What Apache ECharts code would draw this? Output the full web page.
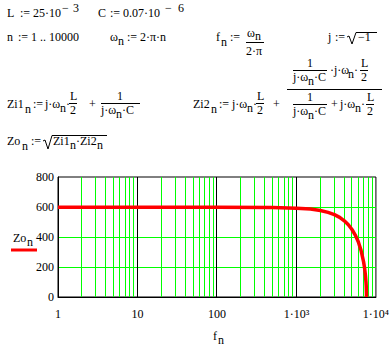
<!DOCTYPE html>
<html>
<head>
<meta charset="utf-8">
<script src="https://cdn.jsdelivr.net/npm/echarts@6/dist/echarts.min.js"></script>
<style>
html,body{margin:0;padding:0;background:#fff;}
#c{width:392px;height:348px;}
</style>
</head>
<body>
<div id="c"></div>
<script>
// ---- data ----
const freq = [1, 10, 100, 500, 1000, 1500, 2000, 2500, 3000, 3500, 4000, 4500, 5000, 5500, 6000, 6500, 7000, 7100, 7200, 7300, 7400, 7500, 7550, 7600, 7609];
const zo   = [598, 598, 598, 596, 592, 586, 577, 564, 549, 531, 508, 482, 450, 413, 368, 311, 234, 214, 193, 167, 139, 101, 76, 27, 0];
const minorGrid = [2,3,4,5,6,7,8,9, 20,30,40,50,60,70,80,90, 200,300,400,500,600,700,800,900, 2000,3000,4000,5000,6000,7000,8000,9000];
const decadeGrid = [10, 100, 1000];
const xTickValues = [1, 10, 100, 1000, 10000];
const xTickLabels = ['1', '10', '100', '1·10³', '1·10⁴'];
const yTickValues = [0, 200, 400, 600, 800];

const FONT = '"Liberation Serif","Times New Roman",serif';
const FS = 12;
const G = [];
function T(x, base, s, fs) {
  fs = fs || FS;
  G.push({type:'text', silent:true, style:{text:s, x:x, y:base - 0.305*fs, font: fs+'px '+FONT, fill:'#000', align:'left', verticalAlign:'middle'}});
}
function L(x1, y1, x2, y2) {
  G.push({type:'line', silent:true, shape:{x1:x1, y1:y1+0.5, x2:x2, y2:y2+0.5}, style:{stroke:'#000', lineWidth:1}});
}
function P(points) {
  G.push({type:'polyline', silent:true, shape:{points:points}, style:{stroke:'#000', lineWidth:1, fill:null}});
}
// row 1
T(7,17,'L'); T(20,17,':='); T(33,17,'25·10'); T(62,12,'−'); T(73,12,'3');
T(98,17,'C'); T(110,17,':='); T(123,17,'0.07·10'); T(165,12,'−'); T(178,12,'6');
// row 2
T(7,41,'n'); T(18,41,':='); T(31,41,'1 .. 10000');
T(110,41,'ω'); T(118,45,'n'); T(127,41,':='); T(140,41,'2·π·n');
T(216,41,'f'); T(221,46,'n'); T(230,41,':=');
L(246,42,264,42); T(247,37,'ω'); T(255,40,'n'); T(246,55,'2·π');
T(328,41,'j'); T(335,41,':='); P([[347,37],[349,36],[352,44],[356,32.5],[377,32.5]]); T(358,41,'−1');
// Zi1
const B = 103, M = 108;
T(7,M,'Zi1'); T(25,M+5,'n'); T(33,M,':=');
T(45,M,'j·ω'); T(60,M+4,'n'); T(66,M,'·');
L(69,B,77,B); T(70,B-3,'L'); T(70,B+11,'2');
T(89,M,'+');
L(101,B,140,B); T(117,B-3,'1'); T(101,B+11,'j·ω'); T(116,B+15,'n'); T(122,B+11,'·C');
// Zi2
T(193,M,'Zi2'); T(211,M+5,'n'); T(219,M,':=');
T(232,M,'j·ω'); T(247,M+4,'n'); T(253,M,'·');
L(256,B,264,B); T(257,B-3,'L'); T(257,B+11,'2');
T(273,M,'+');
const BB = 89;
L(287,BB,382,BB);
// numerator
L(293,70,327,70); T(307,67,'1'); T(293,81,'j·ω'); T(308,85,'n'); T(314,81,'·C');
T(330,74,'·j·ω'); T(348,78,'n'); T(354,74,'·');
L(360,70,368,70); T(361,67,'L'); T(361,81,'2');
// denominator
L(293,104,327,104); T(307,101,'1'); T(293,115,'j·ω'); T(308,119,'n'); T(314,115,'·C');
T(331,108,'+'); T(340,108,'j·ω'); T(355,112,'n'); T(361,108,'·');
L(366,104,374,104); T(367,101,'L'); T(367,115,'2');
// Zo
T(7,145,'Zo'); T(22,150,'n'); T(31,145,':=');
P([[43,141],[45,140],[48,149],[52,135.5],[107,135.5]]);
T(53,145,'Zi1'); T(70,149,'n'); T(76,145,'·Zi2'); T(97,149,'n');
// legend & axis title
T(13,242,'Zo'); T(27,246,'n');
G.push({type:'line', silent:true, shape:{x1:11, y1:250, x2:37, y2:250}, style:{stroke:'#ff0000', lineWidth:3}});
T(213,340,'f'); T(218,344,'n');

function gridLineSeries(values, color, z) {
  return {
    type:'custom', z:z, silent:true, clip:false,
    data: values.map(v => [v, yTickValues[0]]),
    encode:{x:0, y:1},
    renderItem: function(params, api) {
      const v = api.value(0);
      const p0 = api.coord([v, yTickValues[0]]);
      const p1 = api.coord([v, yTickValues[yTickValues.length - 1]]);
      const x = Math.floor(p0[0]) + 0.5;
      return {type:'line', silent:true, shape:{x1:x, y1:p0[1], x2:x, y2:p1[1]}, style:{stroke:color, lineWidth:1}};
    }
  };
}

const chart = echarts.init(document.getElementById('c'), null, {renderer:'svg'});
chart.setOption({
  animation: false,
  backgroundColor: '#fff',
  grid: {left:58, top:177, width:318, height:120, show:true, borderColor:'#000', borderWidth:1, backgroundColor:'transparent'},
  xAxis: {
    type:'log', logBase:10, min:1, max:10000,
    axisLine:{show:true, lineStyle:{color:'#000', width:1}},
    axisTick:{show:false},
    minorTick:{show:false}, minorSplitLine:{show:false},
    splitLine:{show:false},
    axisLabel:{color:'#000', fontFamily:FONT, fontSize:12, margin:11,
      formatter: function(v){ const i = xTickValues.findIndex(t => Math.abs(t - v) < 1e-6 * t); return i >= 0 ? xTickLabels[i] : ''; }}
  },
  yAxis: {
    type:'value', min:0, max:800, interval:200,
    axisLine:{show:true, lineStyle:{color:'#000', width:1}},
    axisTick:{show:false},
    splitLine:{show:true, showMinLine:false, showMaxLine:false, lineStyle:{color:'#00ff00', width:1}},
    axisLabel:{color:'#000', fontFamily:FONT, fontSize:12, margin:4}
  },
  series: [
    gridLineSeries(minorGrid, '#00ff00', 1),
    gridLineSeries(decadeGrid, '#000000', 2),
    {type:'line', z:5, showSymbol:false, silent:true, clip:true,
     lineStyle:{color:'#ff0000', width:3.5},
     data: freq.map((f,i) => [f, zo[i]])}
  ],
  graphic: G
});
</script>
</body>
</html>
